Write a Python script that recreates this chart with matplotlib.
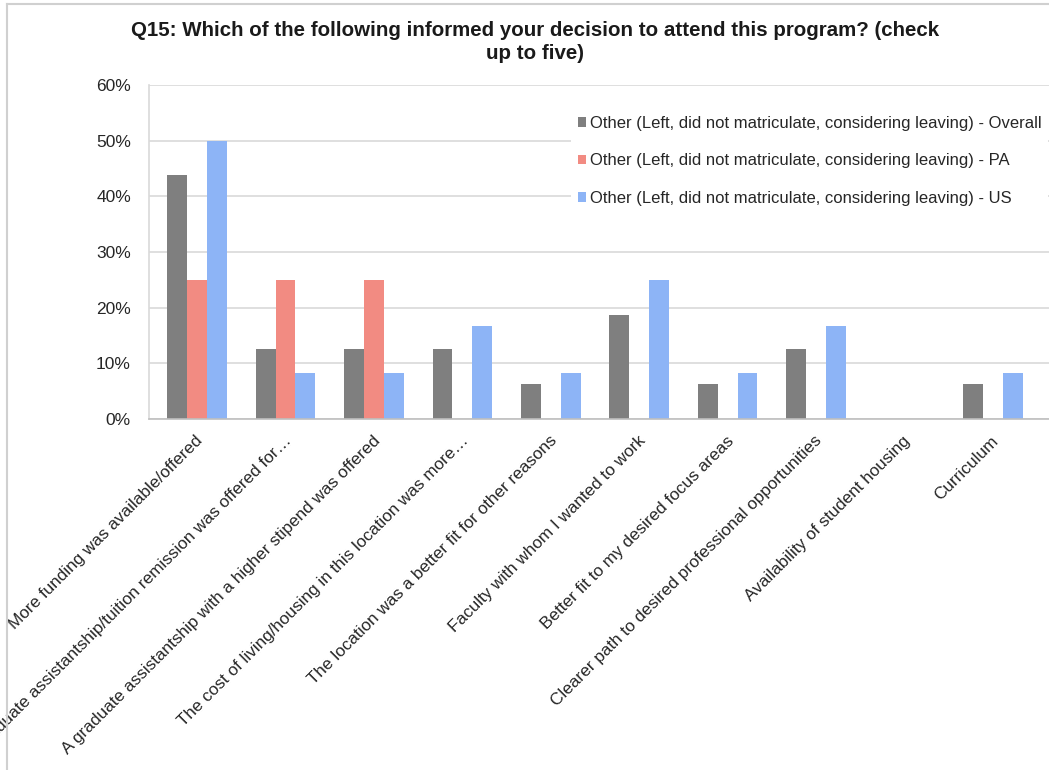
import numpy as np
import matplotlib.pyplot as plt
from matplotlib.lines import Line2D

plt.rcParams['font.family'] = ['Liberation Sans', 'DejaVu Sans']

categories = [
    'More funding was available/offered',
    'A graduate assistantship/tuition remission was offered for…',
    'A graduate assistantship with a higher stipend was offered',
    'The cost of living/housing in this location was more…',
    'The location was a better fit for other reasons',
    'Faculty with whom I wanted to work',
    'Better fit to my desired focus areas',
    'Clearer path to desired professional opportunities',
    'Availability of student housing',
    'Curriculum',
]
overall = [43.75, 12.5, 12.5, 12.5, 6.25, 18.75, 6.25, 12.5, 0, 6.25]
pa = [25, 25, 25, 0, 0, 0, 0, 0, 0, 0]
us = [50, 8.33, 8.33, 16.67, 8.33, 25, 8.33, 16.67, 0, 8.33]
series_names = [
    'Other (Left, did not matriculate, considering leaving) - Overall',
    'Other (Left, did not matriculate, considering leaving) - PA',
    'Other (Left, did not matriculate, considering leaving) - US',
]
colors = ['#7f7f7f', '#f28b82', '#8db4f6']

fig = plt.figure(figsize=(10.49, 7.70), dpi=100)
ax = fig.add_axes([149 / 1049, 1 - 419 / 770, (1049 - 149) / 1049, (419 - 85) / 770])

x = np.arange(len(categories))
w = 0.225
for i, (vals, name, c) in enumerate(zip([overall, pa, us], series_names, colors)):
    ax.bar(x + (i - 1) * w + 0.01, vals, width=w, color=c, label=name, zorder=2)

ax.set_ylim(0, 60)
ax.set_xlim(-0.534, 9.645)
ax.set_yticks(range(0, 61, 10))
ax.set_yticklabels([f'{v}%' for v in range(0, 61, 10)], fontsize=12.5, color='#262626')
ax.yaxis.grid(True, color='#d9d9d9', linewidth=1.2, zorder=0)
ax.set_axisbelow(True)
ax.tick_params(axis='both', length=0)
ax.tick_params(axis='y', pad=13)

ax.set_xticks(x + 0.05)
ax.set_xticklabels(categories, rotation=45, ha='right', va='center',
                   rotation_mode='anchor', fontsize=12.3, color='#262626')
ax.tick_params(axis='x', pad=14)

for s in ['top', 'right']:
    ax.spines[s].set_visible(False)
ax.spines['left'].set_color('#d9d9d9')
ax.spines['bottom'].set_color('#bfbfbf')
ax.spines['left'].set_linewidth(1.2)
ax.spines['bottom'].set_linewidth(1.2)

leg = ax.legend(loc='upper left', bbox_to_anchor=(422 / 900, 1 - 24 / 334),
                frameon=True, fontsize=12, handlelength=0.5, handleheight=0.5,
                handletextpad=0.25, labelspacing=1.35, borderpad=0.4,
                borderaxespad=0)
leg.get_frame().set_facecolor('white')
leg.get_frame().set_edgecolor('none')
leg.get_frame().set_alpha(1)
for t in leg.get_texts():
    t.set_color('#262626')

fig.text(535 / 1049, 1 - 42 / 770,
         'Q15: Which of the following informed your decision to attend this program? (check\nup to five)',
         ha='center', va='center', fontsize=14.8, fontweight='bold', linespacing=1.3,
         color='#1a1a1a')

# chart-area border along the top and left
fig.add_artist(Line2D([7 / 1049, 7 / 1049], [0, 1 - 4 / 770], color='#d0d0d0', lw=1.5))
fig.add_artist(Line2D([7 / 1049, 1], [1 - 4 / 770, 1 - 4 / 770], color='#d0d0d0', lw=1.5))

fig.savefig('out.png', dpi=100)
